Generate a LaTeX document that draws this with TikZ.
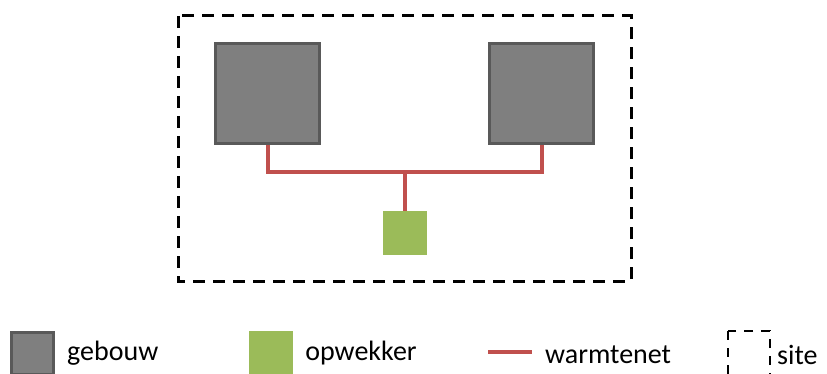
\documentclass[tikz,border=0pt]{standalone}
\usepackage{fontspec}
\setmainfont{Carlito}
\usetikzlibrary{positioning}
\definecolor{gebouwgrijs}{HTML}{7F7F7F}
\definecolor{randgrijs}{HTML}{595959}
\definecolor{opwekgroen}{HTML}{9BBB59}
\definecolor{netrood}{HTML}{C0504D}
\tikzset{
  gebouw/.style={draw=randgrijs, line width=3pt, fill=gebouwgrijs, minimum width=104pt, minimum height=100pt, inner sep=0pt},
  opwekker/.style={fill=opwekgroen, minimum size=44pt, inner sep=0pt},
  warmtenet/.style={draw=netrood, line width=4pt},
  site/.style={draw=black, line width=3pt, dash pattern=on 12pt off 8pt},
  label/.style={anchor=west, inner sep=0pt, font=\fontsize{28}{32}\selectfont}
}
\begin{document}
\begin{tikzpicture}[x=1pt,y=-1pt]
      \useasboundingbox (0,0) rectangle (827,374);
      % site
      \draw[site] (178,16) rectangle (631,281);
      \draw
        (267.5,93.5) node[gebouw] (b1){}
        (541.5,93.5) node[gebouw] (b2){}
        (405,233) node[opwekker] (g){};
      \coordinate (j) at (g.north |- 0,172);
      \begin{scope}[warmtenet]
        \draw (b1.south) |- (j) -| (b2.south);
        \draw (j) -- (g.north);
      \end{scope}
      % legenda
      \draw
        (32.5,353) node[gebouw, minimum width=42pt, minimum height=42pt] (lg){}
        (271,353) node[opwekker] (lo){}
        (777,355) node[label] (ls){site};
      \node[label, right=12pt of lg] (tg){gebouw};
      \node[label, right=12pt of lo] (to){opwekker};
      \coordinate (ln1) at (488,352);
      \coordinate (ln2) at (532,352);
      \draw[warmtenet] (ln1) -- (ln2);
      \node[label] (tn) at (545,355) {warmtenet};
      \draw[site, line width=2.5pt, dash pattern=on 9pt off 8pt] (728,331) rectangle (770,378);
    \end{tikzpicture}
\end{document}
